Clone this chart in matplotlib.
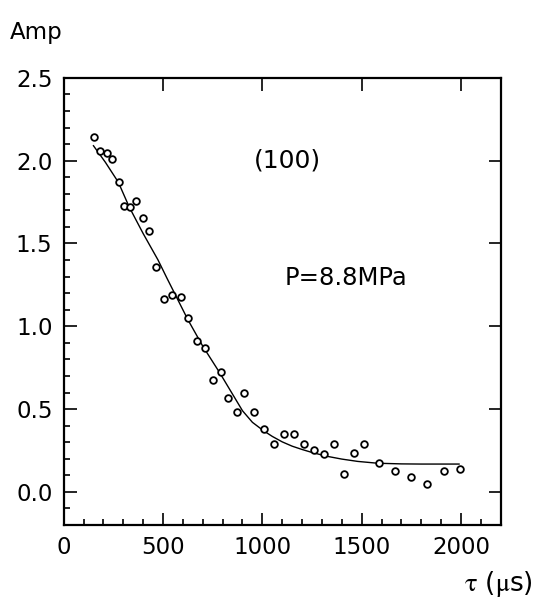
import matplotlib.pyplot as plt
from matplotlib.ticker import MultipleLocator

plt.rcParams['mathtext.fontset'] = 'stix'

# measured amplitude vs delay
tau = [152, 183, 216, 245, 276, 303, 334, 366, 397, 428, 466, 507, 547, 591,
       628, 669, 709, 750, 791, 829, 871, 910, 960, 1010, 1059, 1109, 1159,
       1210, 1260, 1310, 1360, 1410, 1460, 1510, 1588, 1669, 1750, 1831,
       1914, 1993]
amp = [2.144, 2.061, 2.049, 2.012, 1.873, 1.729, 1.720, 1.755, 1.652, 1.576,
       1.358, 1.165, 1.188, 1.176, 1.052, 0.911, 0.866, 0.673, 0.725, 0.569,
       0.485, 0.595, 0.485, 0.381, 0.287, 0.348, 0.351, 0.292, 0.254, 0.226,
       0.292, 0.106, 0.233, 0.292, 0.176, 0.127, 0.089, 0.045, 0.129, 0.139]

# fitted curve
fit_tau = [150, 210, 275, 330, 400, 475, 520, 625, 700, 785, 900, 950, 1005,
           1050, 1100, 1150, 1200, 1250, 1325, 1400, 1480, 1580, 1700, 1800,
           1990]
fit_amp = [2.09, 1.99, 1.87, 1.72, 1.56, 1.40, 1.29, 1.04, 0.88, 0.72, 0.49,
           0.42, 0.37, 0.335, 0.302, 0.276, 0.256, 0.238, 0.215, 0.198, 0.184,
           0.173, 0.169, 0.168, 0.168]

fig = plt.figure(figsize=(5.35, 6.08), dpi=100)
ax = fig.add_axes([0.119, 0.1365, 0.817, 0.7355])

ax.plot(fit_tau, fit_amp, color='black', lw=1.0)
ax.plot(tau, amp, 'o', mfc='white', mec='black', ms=4.8, mew=1.3)

ax.set_xlim(0, 2200)
ax.set_ylim(-0.2, 2.5)
ax.xaxis.set_major_locator(MultipleLocator(500))
ax.xaxis.set_minor_locator(MultipleLocator(100))
ax.yaxis.set_major_locator(MultipleLocator(0.5))
ax.yaxis.set_minor_locator(MultipleLocator(0.1))
ax.yaxis.set_major_formatter(plt.FormatStrFormatter('%.1f'))

ax.tick_params(which='both', direction='in', top=True, right=True,
               labelsize=16.5, width=1.2)
ax.tick_params(which='major', length=9, pad=8)
ax.tick_params(which='minor', length=4.5, top=False, right=False)
for s in ax.spines.values():
    s.set_linewidth(1.6)

ax.text(1126, 2.0, '(100)', fontsize=18, ha='center', va='center')
ax.text(1419, 1.29, 'P=8.8MPa', fontsize=17.5, ha='center', va='center')

fig.text(0.018, 0.947, 'Amp', fontsize=16.5, va='center')
fig.text(0.997, 0.04, r'$\mathrm{\tau}$ ($\mathrm{\mu}$s)', fontsize=19,
         ha='right', va='center')

fig.savefig('out.png', dpi=100)
